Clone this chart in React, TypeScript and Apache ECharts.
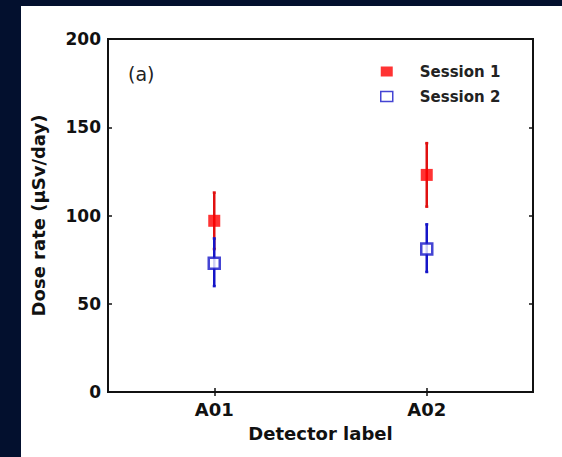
import React, { useEffect, useRef } from "react";
import * as echarts from "echarts";

const categories = ["A01", "A02"];
const session1Mean = [97, 123];
const session1Low = [81, 105];
const session1High = [113, 141];
const session2Mean = [73, 81];
const session2Low = [60, 68];
const session2High = [87, 95];
const yTicks = { min: 0, max: 200, interval: 50 };

const FONT = "DejaVu Sans";
const RED = "#ff0000";
const RED_BAR = "#e01010";
const BLUE = "#1515c8";

function errorSeries(name: string, low: number[], high: number[], color: string) {
  return {
    name,
    type: "custom",
    z: 1,
    silent: true,
    data: categories.map((_, i) => [i, low[i], high[i]]),
    renderItem: (_params: any, api: any) => {
      const x = api.value(0);
      const lo = api.coord([x, api.value(1)]);
      const hi = api.coord([x, api.value(2)]);
      const style = { stroke: color, lineWidth: 2.5 };
      return {
        type: "group",
        children: [
          { type: "line", shape: { x1: lo[0], y1: lo[1], x2: hi[0], y2: hi[1] }, style },
          { type: "line", shape: { x1: lo[0] - 1.5, y1: lo[1], x2: lo[0] + 1.5, y2: lo[1] }, style },
          { type: "line", shape: { x1: hi[0] - 1.5, y1: hi[1], x2: hi[0] + 1.5, y2: hi[1] }, style },
        ],
      };
    },
  };
}

export default function App() {
  const ref = useRef<HTMLDivElement>(null);
  useEffect(() => {
    if (!ref.current) return;
    const chart = echarts.init(ref.current, undefined, { renderer: "svg" });
    const axisLine = { show: true, lineStyle: { color: "#111", width: 2 } };
    chart.setOption({
      animation: false,
      backgroundColor: "#ffffff",
      textStyle: { fontFamily: FONT },
      grid: {
        left: 86,
        top: 33,
        right: 29,
        bottom: 65,
        show: true,
        borderColor: "#111",
        borderWidth: 2,
        backgroundColor: "transparent",
      },
      legend: {
        orient: "vertical",
        left: 359,
        top: 58,
        padding: 0,
        itemWidth: 12,
        itemHeight: 10,
        itemGap: 10,
        selectedMode: false,
        textStyle: {
          fontFamily: FONT,
          fontSize: 15,
          fontWeight: "bold",
          color: "#222",
          lineHeight: 15,
          padding: [0, 0, 0, 22],
        },
        data: [
          { name: "Session 1", icon: "rect" },
          { name: "Session 2", icon: "rect", itemStyle: { borderWidth: 1.5 } },
        ],
      },
      graphic: [
        {
          type: "text",
          left: 107,
          top: 58,
          style: { text: "(a)", fontFamily: FONT, fontSize: 19, fill: "#222" },
        },
      ],
      xAxis: [
        {
          type: "category",
          data: categories,
          position: "bottom",
          axisLine,
          axisTick: { show: true, inside: true, alignWithLabel: true, length: 4, lineStyle: { color: "#111", width: 1.5 } },
          axisLabel: { fontFamily: FONT, fontSize: 18, fontWeight: "bold", color: "#111", margin: 8 },
          splitLine: { show: false },
          name: "Detector label",
          nameLocation: "middle",
          nameGap: 32,
          nameTextStyle: { fontFamily: FONT, fontSize: 18, fontWeight: "bold", color: "#111" },
        },
        {
          type: "category",
          data: categories,
          position: "top",
          axisLine,
          axisTick: { show: true, inside: true, alignWithLabel: true, length: 4, lineStyle: { color: "#111", width: 1.5 } },
          axisLabel: { show: false },
          splitLine: { show: false },
        },
      ],
      yAxis: [
        {
          type: "value",
          min: yTicks.min,
          max: yTicks.max,
          interval: yTicks.interval,
          position: "left",
          axisLine,
          axisTick: { show: true, inside: true, length: 4, lineStyle: { color: "#111", width: 1.5 } },
          axisLabel: { fontFamily: FONT, fontSize: 17, fontWeight: "bold", color: "#111", margin: 7 },
          splitLine: { show: false },
          name: "Dose rate (μSv/day)",
          nameLocation: "middle",
          nameGap: 61,
          nameTextStyle: { fontFamily: FONT, fontSize: 18, fontWeight: "bold", color: "#111" },
        },
        {
          type: "value",
          min: yTicks.min,
          max: yTicks.max,
          interval: yTicks.interval,
          position: "right",
          axisLine,
          axisTick: { show: true, inside: true, length: 4, lineStyle: { color: "#111", width: 1.5 } },
          axisLabel: { show: false },
          splitLine: { show: false },
        },
      ],
      series: [
        errorSeries("Session 1 error", session1Low, session1High, RED_BAR),
        errorSeries("Session 2 error", session2Low, session2High, BLUE),
        {
          name: "Session 1",
          type: "scatter",
          z: 3,
          symbol: "rect",
          symbolSize: 12,
          itemStyle: { color: RED },
          data: categories.map((c, i) => [c, session1Mean[i]]),
        },
        {
          name: "Session 2",
          type: "scatter",
          z: 4,
          symbol: "rect",
          symbolSize: 11,
          itemStyle: { color: "#ffffff", borderColor: BLUE, borderWidth: 2.5 },
          data: categories.map((c, i) => [c, session2Mean[i]]),
        },
      ],
    });
    return () => chart.dispose();
  }, []);

  return (
    <div style={{ position: "fixed", left: 0, top: 0, width: 562, height: 457, background: "#03102e" }}>
      <div ref={ref} style={{ position: "absolute", left: 21, top: 6, width: 541, height: 451 }} />
    </div>
  );
}
